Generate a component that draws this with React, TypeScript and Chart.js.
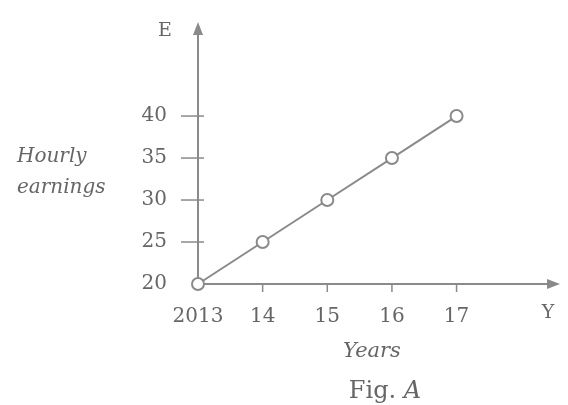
import { useEffect, useRef } from 'react';
import { Chart, registerables } from 'chart.js';

Chart.register(...registerables);

// ---- data ----
const years = [2013, 2014, 2015, 2016, 2017];
const yearLabels = ['2013', '14', '15', '16', '17'];
const earnings = [20, 25, 30, 35, 40];
const yTicks = [20, 25, 30, 35, 40];
const yAxisName = 'E';
const xAxisName = 'Y';
const yTitleLines = ['Hourly', 'earnings'];
const xTitle = 'Years';
const figCaption = 'Fig.';
const figLetter = 'A';

const INK = '#666666';
const STROKE = '#8a8a8a';
const SERIF = '"DejaVu Serif", serif';

const decorations = {
  id: 'decorations',
  beforeDatasetsDraw(chart: any) {
    const { ctx, chartArea, scales } = chart;
    const xs = scales.x;
    const ys = scales.y;
    const x0 = xs.getPixelForValue(years[0]);
    const y0 = ys.getPixelForValue(yTicks[0]);
    const top = chartArea.top;
    const right = chartArea.right;
    ctx.save();
    ctx.strokeStyle = STROKE;
    ctx.fillStyle = STROKE;
    ctx.lineWidth = 2;
    // y axis
    ctx.beginPath();
    ctx.moveTo(x0, y0);
    ctx.lineTo(x0, top + 8);
    ctx.stroke();
    ctx.beginPath();
    ctx.moveTo(x0, top);
    ctx.lineTo(x0 - 5, top + 13);
    ctx.lineTo(x0 + 5, top + 13);
    ctx.closePath();
    ctx.fill();
    // x axis
    ctx.beginPath();
    ctx.moveTo(x0, y0);
    ctx.lineTo(right - 8, y0);
    ctx.stroke();
    ctx.beginPath();
    ctx.moveTo(right, y0);
    ctx.lineTo(right - 13, y0 - 5);
    ctx.lineTo(right - 13, y0 + 5);
    ctx.closePath();
    ctx.fill();
    // y tick marks (crossing the axis)
    ctx.lineWidth = 1.5;
    yTicks.slice(1).forEach((v) => {
      const py = ys.getPixelForValue(v);
      ctx.beginPath();
      ctx.moveTo(x0 - 17, py);
      ctx.lineTo(x0 + 6, py);
      ctx.stroke();
    });
    // x tick marks
    years.slice(1).forEach((v) => {
      const px = xs.getPixelForValue(v);
      ctx.beginPath();
      ctx.moveTo(px, y0 - 1);
      ctx.lineTo(px, y0 + 8);
      ctx.stroke();
    });
    ctx.restore();
  },
  afterDraw(chart: any) {
    const { ctx, chartArea, scales } = chart;
    const xs = scales.x;
    const ys = scales.y;
    const x0 = xs.getPixelForValue(years[0]);
    const y0 = ys.getPixelForValue(yTicks[0]);
    ctx.save();
    ctx.fillStyle = INK;
    ctx.textBaseline = 'middle';
    // axis names
    ctx.font = `19px ${SERIF}`;
    ctx.textAlign = 'center';
    ctx.fillText(yAxisName, x0 - 33, chartArea.top + 9);
    ctx.fillText(xAxisName, chartArea.right - 12, y0 + 29);
    // y title
    ctx.font = `italic 20px ${SERIF}`;
    ctx.textAlign = 'left';
    ctx.fillText(yTitleLines[0], 17, 157);
    ctx.fillText(yTitleLines[1], 17, 188);
    // x title
    ctx.textAlign = 'center';
    ctx.font = `italic 21px ${SERIF}`;
    ctx.fillText(xTitle, 372, 352);
    // caption
    ctx.font = `24px ${SERIF}`;
    const w1 = ctx.measureText(figCaption + ' ').width;
    ctx.font = `italic 24px ${SERIF}`;
    const w2 = ctx.measureText(figLetter).width;
    const startX = 385 - (w1 + w2) / 2;
    ctx.textAlign = 'left';
    ctx.font = `24px ${SERIF}`;
    ctx.fillText(figCaption + ' ', startX, 392);
    ctx.font = `italic 24px ${SERIF}`;
    ctx.fillText(figLetter, startX + w1, 392);
    ctx.restore();
  },
};

export default function App() {
  const canvasRef = useRef<HTMLCanvasElement | null>(null);

  useEffect(() => {
    if (!canvasRef.current) return;
    const chart = new Chart(canvasRef.current, {
      type: 'line',
      data: {
        datasets: [
          {
            data: years.map((yr, i) => ({ x: yr, y: earnings[i] })),
            borderColor: STROKE,
            borderWidth: 2,
            pointRadius: 6,
            pointBorderWidth: 2,
            pointBackgroundColor: '#ffffff',
            pointBorderColor: STROKE,
            clip: false,
            tension: 0,
          } as any,
        ],
      },
      options: {
        animation: false,
        responsive: false,
        maintainAspectRatio: false,
        layout: { padding: { top: 22, right: 5, left: 0, bottom: 0 } },
        plugins: {
          legend: { display: false },
          tooltip: { enabled: false },
          title: { display: false },
        },
        scales: {
          x: {
            type: 'linear',
            min: 2013,
            max: 2018.6,
            afterBuildTicks: (scale: any) => {
              scale.ticks = years.map((v) => ({ value: v }));
            },
            afterFit: (scale: any) => {
              scale.height = 121;
              scale.paddingLeft = 0;
              scale.paddingRight = 0;
              scale.paddingTop = 0;
              scale.paddingBottom = 0;
            },
            grid: { display: true, drawOnChartArea: false, drawTicks: false, color: 'rgba(0,0,0,0)' },
            border: { display: false },
            ticks: {
              color: INK,
              padding: 21,
              maxRotation: 0,
              autoSkip: false,
              font: { family: SERIF, size: 20 },
              callback: (v: any) => {
                const i = years.indexOf(Number(v));
                return i >= 0 ? yearLabels[i] : '';
              },
            },
          },
          y: {
            type: 'linear',
            min: 20,
            max: 51.2,
            afterBuildTicks: (scale: any) => {
              scale.ticks = yTicks.map((v) => ({ value: v }));
            },
            afterFit: (scale: any) => {
              scale.width = 198;
              scale.paddingLeft = 0;
              scale.paddingRight = 0;
              scale.paddingTop = 0;
              scale.paddingBottom = 0;
            },
            grid: { display: true, drawOnChartArea: false, drawTicks: false, color: 'rgba(0,0,0,0)' },
            border: { display: false },
            ticks: {
              color: INK,
              padding: 31,
              autoSkip: false,
              font: { family: SERIF, size: 20 },
              callback: (v: any) => String(v),
            },
          },
        },
      },
      plugins: [decorations],
    });
    return () => chart.destroy();
  }, []);

  return (
    <div style={{ position: 'fixed', left: 0, top: 0, width: 568, height: 405, background: '#fff' }}>
      <canvas ref={canvasRef} width={568} height={405} style={{ width: 568, height: 405, display: 'block' }} />
    </div>
  );
}
